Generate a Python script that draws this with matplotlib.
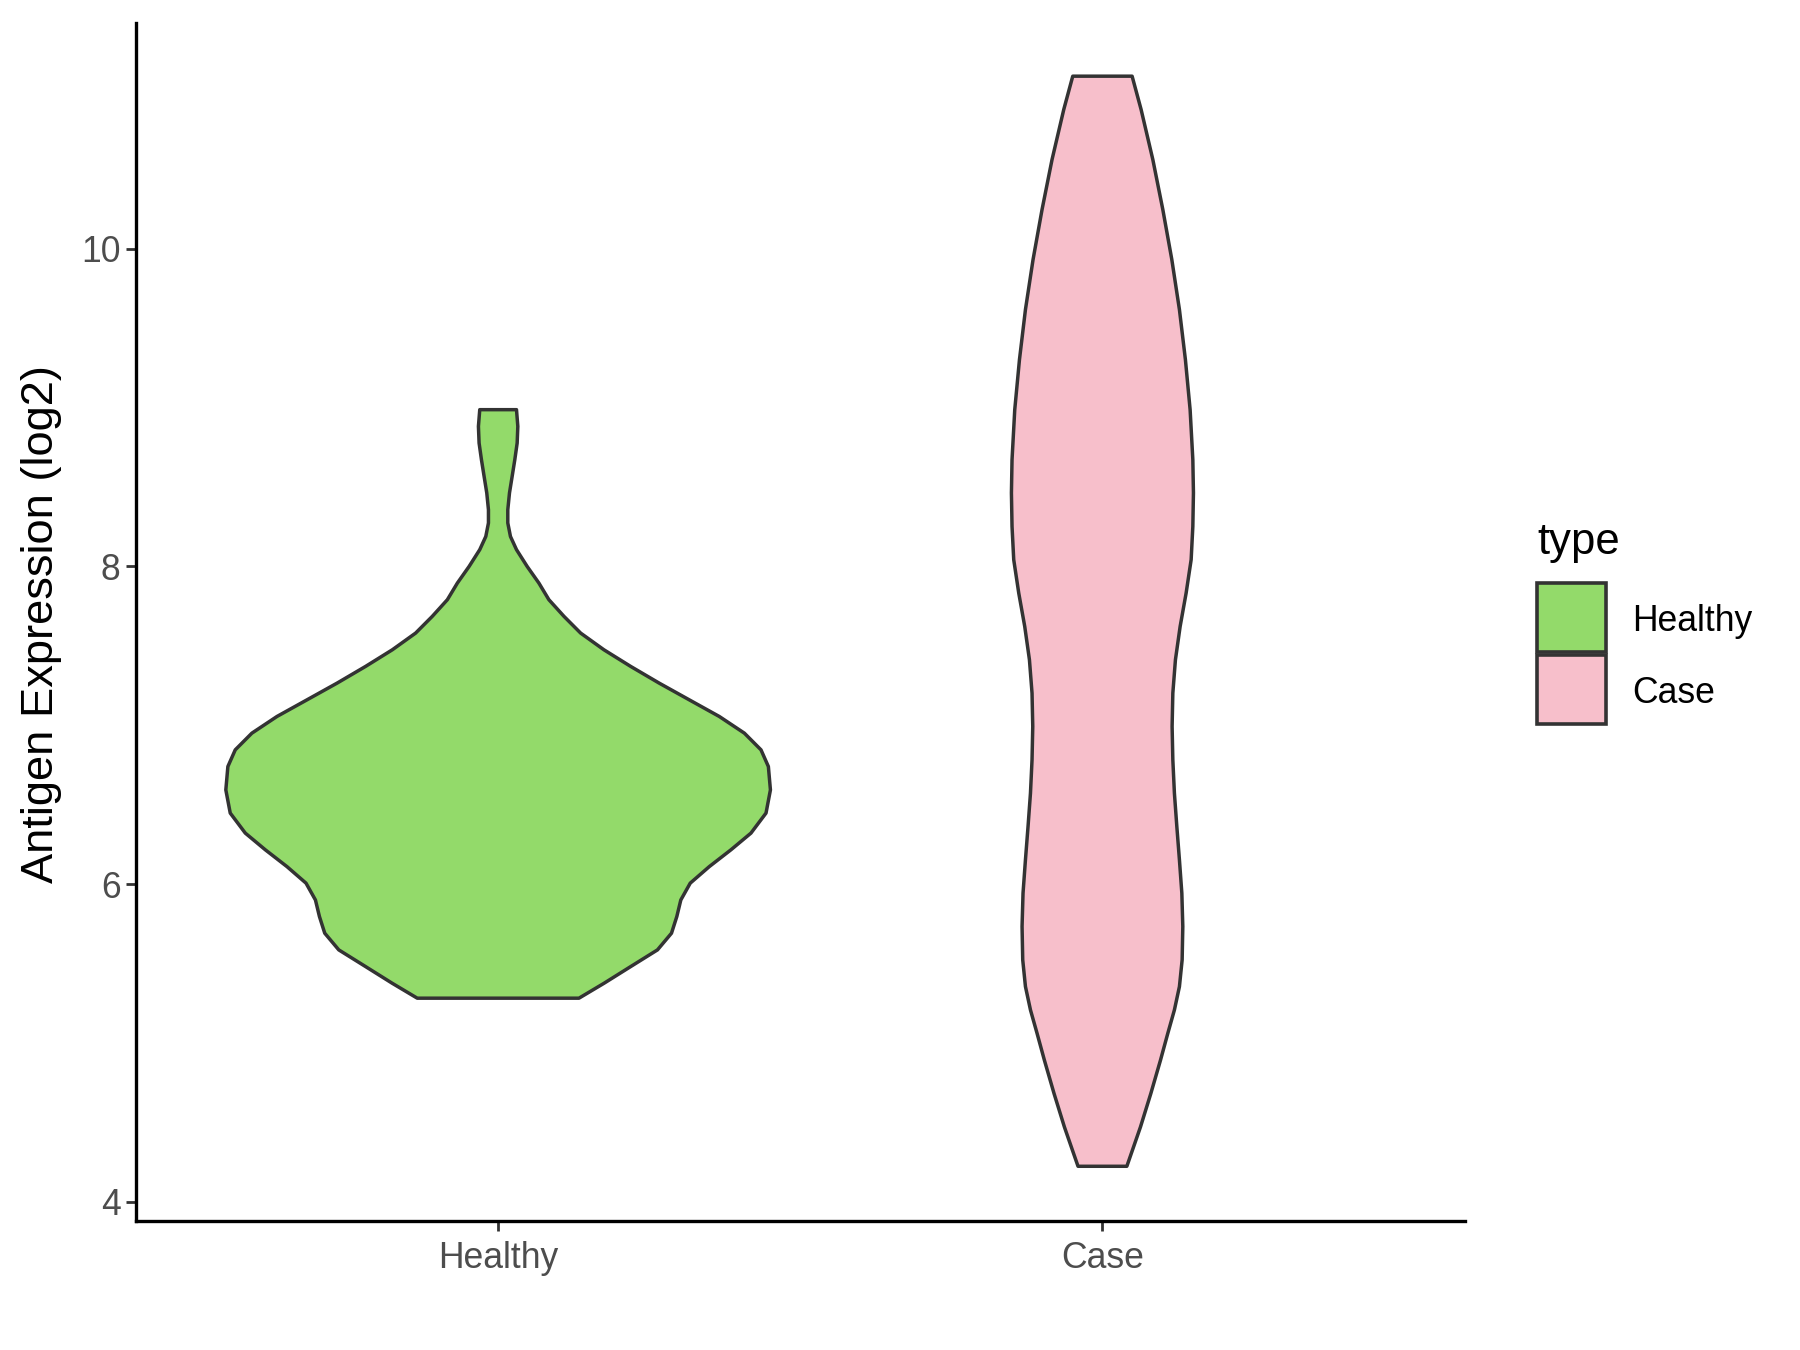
import matplotlib.pyplot as plt
from matplotlib.patches import Polygon, Rectangle

plt.rcParams['font.family'] = ['Liberation Sans', 'DejaVu Sans']

categories = ['Healthy', 'Case']
fills = ['#93DA6A', '#F7BFCB']
edge = '#333333'

# violin outlines: value (log2) and half width (x units)
healthy_y = [8.986, 8.881, 8.776, 8.671, 8.566, 8.462, 8.356, 8.273, 8.188,
             8.105, 7.999, 7.895, 7.790, 7.685, 7.580, 7.475, 7.370, 7.265,
             7.160, 7.055, 6.950, 6.845, 6.740, 6.593, 6.447, 6.321, 6.216,
             6.110, 6.006, 5.900, 5.796, 5.691, 5.586, 5.481, 5.376, 5.282]
healthy_hw = [0.0304, 0.0326, 0.0315, 0.0276, 0.0232, 0.0188, 0.0160, 0.0160,
              0.0204, 0.0304, 0.0481, 0.0674, 0.0840, 0.1090, 0.1365, 0.1750,
              0.2194, 0.2665, 0.3162, 0.3660, 0.4075, 0.4350, 0.4472, 0.4506,
              0.4433, 0.4184, 0.3853, 0.3494, 0.3179, 0.3023, 0.2957, 0.2869,
              0.2637, 0.2194, 0.1753, 0.1338]

case_y = [11.085, 10.875, 10.560, 10.246, 9.931, 9.616, 9.301, 8.986, 8.671,
          8.462, 8.251, 8.042, 7.832, 7.622, 7.412, 7.202, 6.992, 6.782,
          6.572, 6.363, 6.153, 5.943, 5.733, 5.523, 5.355, 5.208, 5.061,
          4.891, 4.681, 4.471, 4.224]
case_hw = [0.0491, 0.0640, 0.0834, 0.0999, 0.1148, 0.1274, 0.1373, 0.1451,
           0.1496, 0.1506, 0.1496, 0.1468, 0.1385, 0.1286, 0.1208, 0.1165,
           0.1153, 0.1165, 0.1191, 0.1231, 0.1274, 0.1314, 0.1330, 0.1319,
           0.1274, 0.1191, 0.1082, 0.0960, 0.0800, 0.0629, 0.0404]

yticks = [4, 6, 8, 10]

fig = plt.figure(figsize=(9, 6.75), dpi=200)
ax = fig.add_axes([0.0753, 0.0956, 0.7386, 0.8874])

for i, (ys, hws) in enumerate([(healthy_y, healthy_hw), (case_y, case_hw)]):
    pos = i + 1
    left = [(pos - w, y) for y, w in zip(ys, hws)]
    right = [(pos + w, y) for y, w in zip(ys[::-1], hws[::-1])]
    ax.add_patch(Polygon(left + right, closed=True, facecolor=fills[i],
                         edgecolor=edge, linewidth=1.25, joinstyle='round'))

ax.set_xlim(0.4, 2.6)
ax.set_ylim(3.88, 11.42)
ax.set_xticks([1, 2])
ax.set_xticklabels(categories)
ax.set_yticks(yticks)

for s in ['top', 'right']:
    ax.spines[s].set_visible(False)
for s in ['left', 'bottom']:
    ax.spines[s].set_color('black')
    ax.spines[s].set_linewidth(1.2)
ax.tick_params(axis='both', colors=edge, width=1.0, length=3.6,
               labelcolor='#4D4D4D', labelsize=12.8)
ax.tick_params(axis='y', pad=1.8)
ax.tick_params(axis='x', pad=3.8)

fig.text(0.0228, 0.5374, 'Antigen Expression (log2)', rotation=90,
         ha='center', va='center', fontsize=16.3, color='black')

# legend
fig.text(0.8539, 0.5896, 'type', ha='left', va='baseline', fontsize=15.7)
key_y = [0.5170, 0.4637]
lab_y = [0.5397, 0.4864]
for i, cat in enumerate(categories):
    fig.add_artist(Rectangle((0.8539, key_y[i]), 0.0383, 0.0511,
                             transform=fig.transFigure, facecolor=fills[i],
                             edgecolor=edge, linewidth=1.3))
    fig.text(0.9067, lab_y[i], cat, ha='left', va='center', fontsize=12.8)

fig.savefig('out.png', dpi=200)
